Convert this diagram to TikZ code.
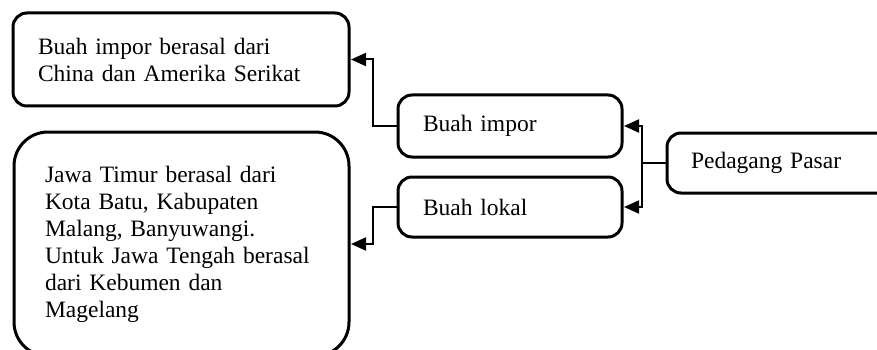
\documentclass[tikz,border=0pt]{standalone}
\usepackage{fontspec}
\setmainfont{Liberation Serif}
\usetikzlibrary{arrows.meta}

\tikzset{
  kotak/.style={draw=black,line width=3pt,rounded corners=14pt,
    inner ysep=0pt,align=left,font=\fontsize{23.5}{27}\selectfont},
  panah/.style={-{Triangle[length=15pt,width=13pt]},line width=2pt,
    line join=miter,shorten >=0.5pt}
}

\begin{document}
\begin{tikzpicture}[line cap=butt,x=1pt,y=-1pt]
		\useasboundingbox (0,0) rectangle (877,350);
		\clip (0,0) rectangle (877,350);
		\node[kotak,minimum width=238pt,minimum height=60pt,text width=190pt,inner xsep=24pt] (pedagang) at (786,163) {Pedagang Pasar};
		\node[kotak,minimum width=224pt,minimum height=62pt,text width=174pt,inner xsep=25pt] (impor) at (510,126) {Buah impor};
		\node[kotak,minimum width=224pt,minimum height=60pt,text width=174pt,inner xsep=25pt] (lokal) at (510,207) {Buah lokal};
		\node[kotak,minimum width=336pt,minimum height=93pt,text width=286pt,inner xsep=25pt] (asalimpor) at (181,59.5) {Buah impor berasal dari\\China dan Amerika Serikat};
		\node[kotak,rounded corners=34pt,minimum width=335pt,minimum height=224pt,text width=273pt,inner xsep=31pt] (asallokal) at (181.5,244) {Jawa Timur berasal dari\\Kota Batu, Kabupaten\\Malang, Banyuwangi.\\Untuk Jawa Tengah berasal\\dari Kebumen dan\\Magelang};
		\draw [panah] (pedagang.west) -- ++(-24,0) |- (impor.east);
		\draw [panah] (pedagang.west) -- ++(-24,0) |- (lokal.east);
		\draw [panah] (impor.west) -- ++(-24,0) |- (asalimpor.east);
		\draw [panah] (lokal.west) -- ++(-24,0) |- (asallokal.east);
\end{tikzpicture}
\end{document}
